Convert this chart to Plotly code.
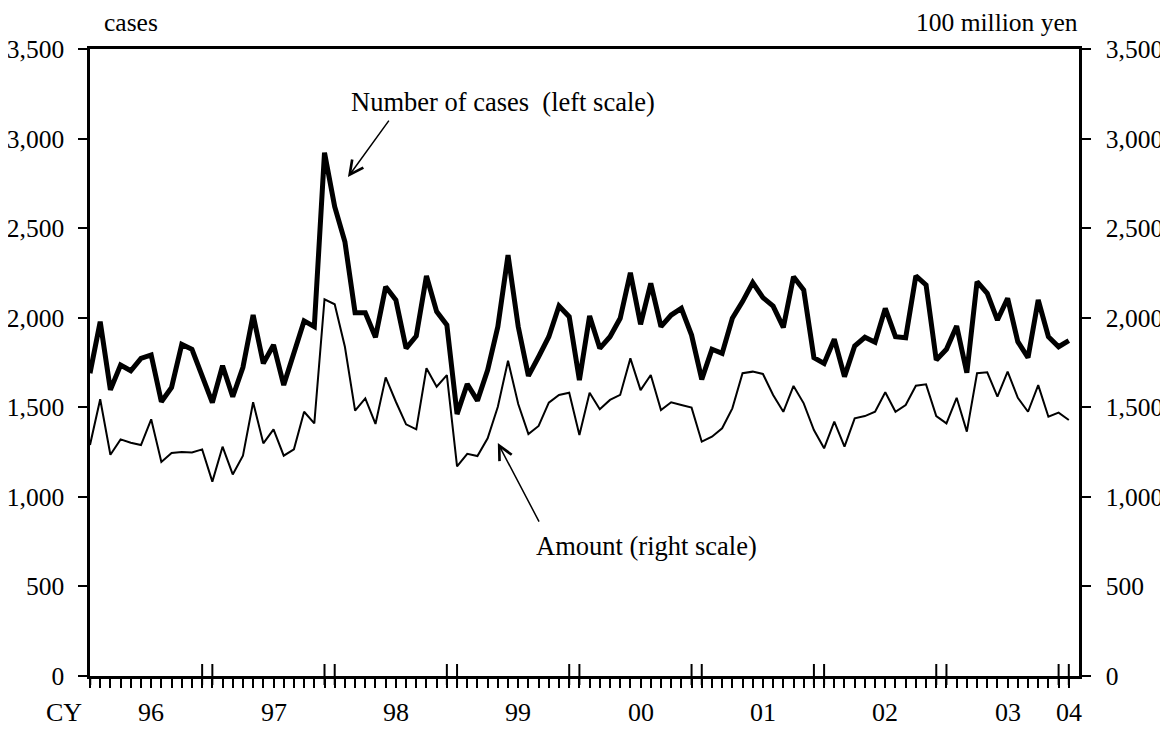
import plotly.graph_objects as go

# Monthly data, Jan 1996 .. Jan 2004 (97 months)
cases = [
    1690, 1978, 1597, 1736, 1704, 1773, 1792, 1531, 1611, 1851, 1824, 1675,   # 96
    1526, 1732, 1559, 1723, 2015, 1745, 1848, 1624, 1801, 1982, 1950, 2921,   # 97
    2620, 2424, 2028, 2028, 1891, 2173, 2099, 1829, 1898, 2233, 2034, 1959,   # 98
    1462, 1630, 1537, 1708, 1950, 2350, 1950, 1675, 1782, 1894, 2065, 2006,   # 99
    1652, 2010, 1829, 1894, 1997, 2251, 1963, 2192, 1950, 2015, 2052, 1903,   # 00
    1656, 1824, 1801, 1997, 2090, 2196, 2112, 2065, 1946, 2229, 2155, 1777,   # 01
    1745, 1880, 1671, 1842, 1891, 1863, 2052, 1894, 1888, 2234, 2183, 1764,   # 02
    1824, 1954, 1693, 2201, 2136, 1987, 2108, 1866, 1777, 2099, 1894, 1838,   # 03
    1872,                                                                     # 04
]
amount = [
    1290, 1545, 1235, 1321, 1302, 1289, 1433, 1195, 1245, 1250, 1248, 1265,   # 96
    1085, 1280, 1125, 1230, 1528, 1299, 1377, 1230, 1265, 1475, 1410, 2103,   # 97
    2075, 1838, 1481, 1550, 1407, 1667, 1531, 1405, 1377, 1718, 1615, 1680,   # 98
    1170, 1240, 1228, 1327, 1503, 1760, 1518, 1351, 1396, 1526, 1569, 1581,   # 99
    1345, 1581, 1489, 1541, 1569, 1773, 1596, 1680, 1485, 1528, 1513, 1498,   # 00
    1308, 1336, 1383, 1494, 1690, 1699, 1686, 1569, 1475, 1619, 1522, 1373,   # 01
    1271, 1420, 1280, 1438, 1451, 1475, 1584, 1475, 1513, 1620, 1628, 1451,   # 02
    1410, 1553, 1364, 1690, 1695, 1559, 1699, 1553, 1475, 1624, 1447, 1470,   # 03
    1429,                                                                     # 04
]
year_labels = ["96", "97", "98", "99", "00", "01", "02", "03", "04"]
y_ticks = [0, 500, 1000, 1500, 2000, 2500, 3000, 3500]

months = list(range(len(cases)))
FONT = "Liberation Serif, Times New Roman, serif"
FS = 25.5
FS_LAB = 26

fig = go.Figure()
fig.add_trace(go.Scatter(x=months, y=cases, mode="lines",
                         line=dict(color="black", width=5), yaxis="y"))
fig.add_trace(go.Scatter(x=months, y=amount, mode="lines",
                         line=dict(color="black", width=2), yaxis="y2"))

n_months = len(cases)
ytick_text = [f"{v:,}" for v in y_ticks]

W, H = 1160, 721
ML, MR, MT, MB = 82, 89, 41, 53
plot_w = W - ML - MR
plot_h = H - MT - MB

fig.update_layout(
    width=W, height=H,
    margin=dict(l=ML, r=MR, t=MT, b=MB, autoexpand=False),
    paper_bgcolor="white", plot_bgcolor="white",
    showlegend=False,
    font=dict(family=FONT, size=FS, color="black"),
    xaxis=dict(range=[0, n_months], tickvals=months, ticktext=[""] * n_months,
               ticks="outside", ticklen=9, tickwidth=2, tickcolor="black",
               showline=True, linecolor="black", linewidth=2.5, mirror=True,
               showgrid=False, zeroline=False),
    yaxis=dict(range=[0, 3500], tickvals=y_ticks, ticktext=ytick_text,
               ticks="outside", ticklen=9, tickwidth=2, tickcolor="black",
               showline=True, linecolor="black", linewidth=2.5,
               showgrid=False, zeroline=False, ticklabelstandoff=9,
               tickfont=dict(family=FONT, size=FS, color="black")),
    yaxis2=dict(range=[0, 3500], tickvals=y_ticks, ticktext=ytick_text,
                overlaying="y", side="right",
                ticks="outside", ticklen=9, tickwidth=2, tickcolor="black",
                showline=True, linecolor="black", linewidth=2.5,
                showgrid=False, zeroline=False, ticklabelstandoff=10,
                tickfont=dict(family=FONT, size=FS, color="black")),
)

# Tall ticks at year boundaries (Dec and Jan)
for m in months:
    if m % 12 in (0, 11) and m > 0:
        fig.add_shape(type="line", xref="x", yref="paper", x0=m, x1=m,
                      y0=-9 / plot_h, y1=12 / plot_h,
                      line=dict(color="black", width=2))
fig.add_shape(type="line", xref="x", yref="paper", x0=0, x1=0,
              y0=-9 / plot_h, y1=0, line=dict(color="black", width=2.5))

# Year labels
LAB_Y = -37 / plot_h
for i, lab in enumerate(year_labels):
    xpos = 12 * i + 6 if i < len(year_labels) - 1 else 96
    fig.add_annotation(x=xpos, xref="x", y=LAB_Y, yref="paper",
                       text=lab, showarrow=False, yanchor="middle",
                       xanchor="center",
                       font=dict(family=FONT, size=FS_LAB, color="black"))
fig.add_annotation(x=-6 / plot_w, xref="paper", y=LAB_Y, yref="paper",
                   text="CY", showarrow=False, yanchor="middle",
                   xanchor="right",
                   font=dict(family=FONT, size=FS_LAB, color="black"))

# Units
fig.add_annotation(x=12 / plot_w, xref="paper", y=1 + 26 / plot_h, yref="paper",
                   text="cases", showarrow=False, yanchor="middle",
                   xanchor="left",
                   font=dict(family=FONT, size=FS, color="black"))
fig.add_annotation(x=1 + 1 / plot_w, xref="paper", y=1 + 26 / plot_h, yref="paper",
                   text="100 million yen", showarrow=False, yanchor="middle",
                   xanchor="right",
                   font=dict(family=FONT, size=FS, color="black"))

# Series labels with arrows
fig.add_annotation(x=40.5, xref="x", y=3205, yref="y",
                   text="Number of cases\u00a0 (left scale)", showarrow=False,
                   xanchor="center",
                   font=dict(family=FONT, size=26.5, color="black"))
fig.add_annotation(x=25.3, xref="x", y=2785, yref="y", text="",
                   showarrow=True, ax=42, ay=-58, arrowhead=5, arrowsize=1.8,
                   arrowwidth=1.5, arrowcolor="black")
fig.add_annotation(x=54.6, xref="x", y=725, yref="y",
                   text="Amount (right scale)", showarrow=False,
                   xanchor="center",
                   font=dict(family=FONT, size=26.5, color="black"))
fig.add_annotation(x=40.0, xref="x", y=1300, yref="y", text="",
                   showarrow=True, ax=42, ay=80, arrowhead=5, arrowsize=1.8,
                   arrowwidth=1.5, arrowcolor="black")

fig.write_html("out.html")
